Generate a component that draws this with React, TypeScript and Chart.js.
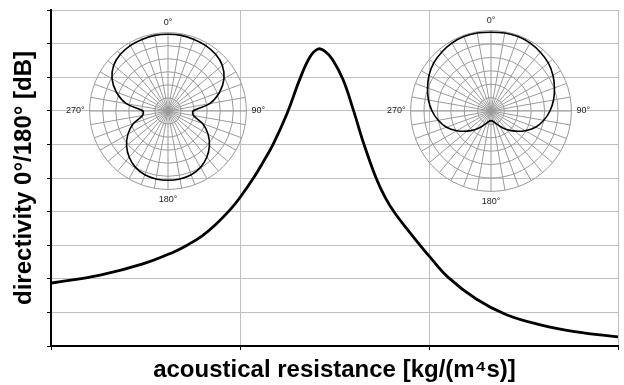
import React, { useEffect, useRef } from 'react';
import { Chart, registerables } from 'chart.js';

Chart.register(...registerables);

const FONT = '"Liberation Sans", Arial, Helvetica, sans-serif';

// main curve: acoustical resistance (3 grid divisions) vs directivity 0°/180° (10 grid divisions)
const resistanceX = [0, 0.26, 0.49, 0.65, 0.72, 0.8, 0.87, 0.947, 1.0, 1.074, 1.12, 1.175, 1.249, 1.317, 1.37, 1.413, 1.45, 1.49, 1.545, 1.6, 1.656, 1.72, 1.77, 1.82, 1.9, 1.963, 2.0, 2.1, 2.25, 2.41, 2.59, 2.78, 3.0];
const directivityY = [1.87, 2.11, 2.45, 2.8, 3.0, 3.28, 3.61, 4.05, 4.42, 5.02, 5.45, 6.0, 6.92, 7.95, 8.6, 8.84, 8.77, 8.52, 7.93, 7.02, 6.0, 5.0, 4.4, 3.95, 3.37, 2.93, 2.68, 2.05, 1.4, 0.93, 0.63, 0.42, 0.27];

// polar insets (dB, -30 .. 0), every 10°
const polarAngles = [0, 10, 20, 30, 40, 50, 60, 70, 80, 90, 100, 110, 120, 130, 140, 150, 160, 170, 180, 190, 200, 210, 220, 230, 240, 250, 260, 270, 280, 290, 300, 310, 320, 330, 340, 350];
const polarShownLabels = ['0°', '90°', '180°', '270°'];
const polarLowResistanceDb = [-0.6, -0.6, -0.9, -1.1, -1.65, -2.85, -5.25, -9.0, -13.8, -20.4, -20.1, -15.9, -12.3, -9.3, -6.9, -5.1, -4.05, -3.6, -3.5, -3.6, -4.05, -5.1, -6.9, -9.3, -12.3, -15.9, -20.1, -20.4, -13.8, -9.0, -5.25, -2.85, -1.65, -1.1, -0.9, -0.6];
const polarHighResistanceDb = [-0.6, -0.45, -0.45, -0.75, -1.35, -2.1, -3.3, -4.8, -6.3, -8.0, -10.0, -12.3, -15.3, -18.3, -21.0, -23.4, -25.2, -26.1, -26.4, -26.1, -25.2, -23.4, -21.0, -18.3, -15.3, -12.3, -10.0, -8.0, -6.3, -4.8, -3.3, -2.1, -1.35, -0.75, -0.45, -0.45];

function MainChart() {
  const ref = useRef<HTMLCanvasElement>(null);
  useEffect(() => {
    const points = resistanceX.map((x, i) => ({ x, y: directivityY[i] }));
    const chart = new Chart(ref.current as HTMLCanvasElement, {
      type: 'line',
      data: {
        datasets: [
          {
            data: points,
            borderColor: '#000',
            borderWidth: 2.8,
            pointRadius: 0,
            fill: false,
            tension: 0.4,
          },
        ],
      },
      options: {
        responsive: false,
        animation: false,
        events: [],
        layout: { padding: { left: 0, right: 6, top: 10, bottom: 0 } },
        plugins: { legend: { display: false }, tooltip: { enabled: false } },
        scales: {
          x: {
            type: 'linear',
            min: 0,
            max: 3,
            ticks: { display: false, stepSize: 1 },
            grid: { color: '#c0c0c0', lineWidth: 1, tickColor: '#000', tickLength: 4 },
            border: { color: '#000', width: 2 },
            title: {
              display: true,
              text: 'acoustical resistance [kg/(m⁴s)]',
              color: '#000',
              font: { family: FONT, size: 24, weight: 'bold' },
              padding: { top: 0, bottom: 0 },
            },
            afterFit: (s: any) => {
              s.height = 39;
            },
          },
          y: {
            type: 'linear',
            min: 0,
            max: 10,
            ticks: { display: false, stepSize: 1 },
            grid: { color: '#c0c0c0', lineWidth: 1, tickColor: '#000', tickLength: 4 },
            border: { color: '#000', width: 2 },
            title: {
              display: true,
              text: 'directivity 0°/180° [dB]',
              color: '#000',
              font: { family: FONT, size: 24, weight: 'bold' },
              padding: { top: 10, bottom: 0 },
            },
            afterFit: (s: any) => {
              s.width = 51;
            },
          },
        },
      },
    });
    return () => chart.destroy();
  }, []);
  return <canvas ref={ref} width={624} height={385} style={{ position: 'absolute', left: 0, top: 0, width: 624, height: 385 }} />;
}

function PolarInset({ values, size, left, top }: { values: number[]; size: number; left: number; top: number }) {
  const ref = useRef<HTMLCanvasElement>(null);
  useEffect(() => {
    const chart = new Chart(ref.current as HTMLCanvasElement, {
      type: 'radar',
      data: {
        labels: polarAngles.map((a) => a + '°'),
        datasets: [
          {
            data: values,
            borderColor: '#000',
            borderWidth: 1.6,
            pointRadius: 0,
            fill: false,
            tension: 0.3,
          },
        ],
      },
      options: {
        responsive: false,
        animation: false,
        events: [],
        layout: { padding: 0 },
        plugins: { legend: { display: false }, tooltip: { enabled: false } },
        scales: {
          r: {
            min: -30,
            max: 0,
            ticks: { display: false, stepSize: 5 },
            grid: { circular: true, color: '#9a9a9a', lineWidth: 1 },
            angleLines: { color: '#9a9a9a', lineWidth: 1 },
            pointLabels: {
              font: { size: 9, family: FONT },
              color: '#222',
              padding: 5,
              callback: (label: string) => (polarShownLabels.includes(label) ? label : ''),
            },
          },
        },
      },
    });
    return () => chart.destroy();
  }, [values]);
  return <canvas ref={ref} width={size} height={size} style={{ position: 'absolute', left, top, width: size, height: size }} />;
}

export default function App() {
  return (
    <div style={{ position: 'absolute', left: 0, top: 0, width: 624, height: 385, background: '#fff' }}>
      <MainChart />
      <PolarInset values={polarLowResistanceDb} size={204} left={64} top={10} />
      <PolarInset values={polarHighResistanceDb} size={208} left={385} top={8} />
    </div>
  );
}
